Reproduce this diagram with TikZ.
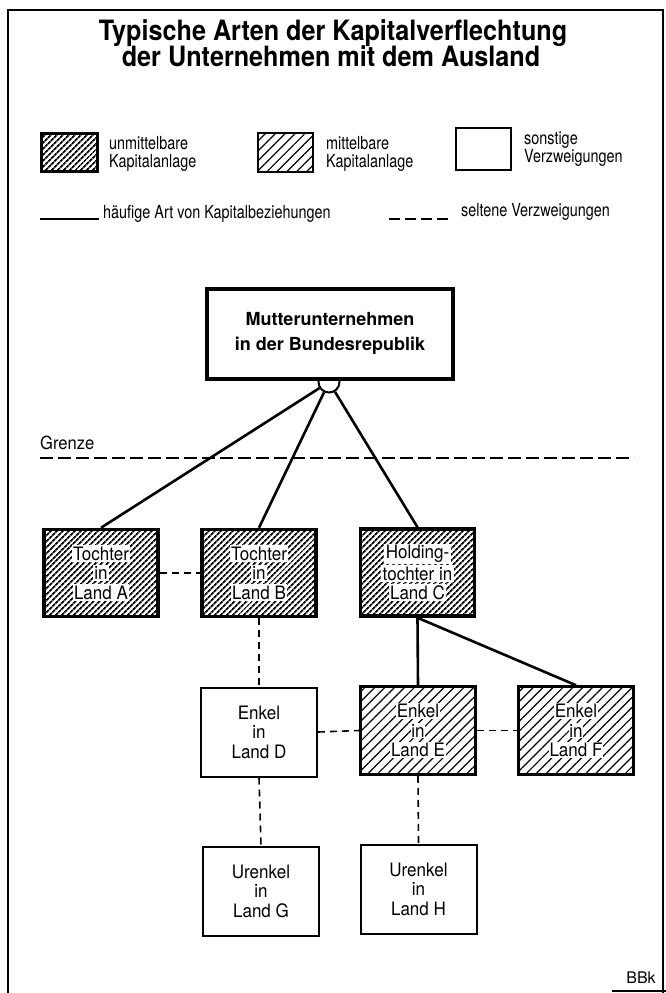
\documentclass[tikz,border=0pt]{standalone}
\usepackage{fontspec}
\setmainfont{TeX Gyre Heros}
\newfontfamily\narrowfont[FakeStretch=0.8]{TeX Gyre Heros}
\newfontfamily\boxfont[FakeStretch=0.92]{TeX Gyre Heros}
\newfontfamily\titlefont[FakeStretch=0.9]{TeX Gyre Heros}
\usetikzlibrary{patterns.meta}
\newcommand{\wb}[1]{{\setlength{\fboxsep}{1.5pt}\colorbox{white}{#1}}}
\newcommand{\wc}[1]{{\setlength{\fboxsep}{0.8pt}\colorbox{white}{#1}}}
\tikzset{
  boxtext/.style={font=\boxfont\fontsize{18.5}{19.5}\selectfont, align=center, inner sep=0pt},
  darkbox/.style={draw, line width=3.5pt, pattern={Lines[angle=45,distance=4pt,line width=1.8pt]},
    minimum width=114pt, minimum height=87pt, boxtext},
  lightbox/.style={draw, line width=2.5pt, pattern={Lines[angle=45,distance=7pt,line width=1.2pt]},
    minimum width=115pt, minimum height=88pt, boxtext},
  plainbox/.style={draw, line width=2pt, fill=white,
    minimum width=116pt, minimum height=89pt, boxtext},
  conn/.style={line width=2.6pt},
  dconn/.style={line width=1.6pt, dash pattern=on 7pt off 5pt},
  legtext/.style={font=\narrowfont\fontsize{18}{18}\selectfont, align=left, inner sep=0pt},
}
\begin{document}
\begin{tikzpicture}[x=1pt,y=-1pt]
\useasboundingbox (0,0) rectangle (666,993);
% frame
\draw[line width=1.5pt] (8,993) -- (8,10) -- (663,10) -- (663,993);
\draw[line width=1.2pt] (612,991) -- (666,991);
% title
\node[font=\titlefont\bfseries\fontsize{28}{28}\selectfont, anchor=base] (t1) at (333,40) {Typische Arten der Kapitalverflechtung};
\node[font=\titlefont\bfseries\fontsize{28}{28}\selectfont, anchor=base] (t2) at (331,66) {der Unternehmen mit dem Ausland};
% legend
\node[draw, line width=3pt, pattern={Lines[angle=45,distance=4pt,line width=1.8pt]}, minimum width=56pt, minimum height=38pt] (lg1) at (69.5,152.5) {};
\node[legtext, anchor=west] (lg1t) at (109,154) {unmittelbare\\Kapitalanlage};
\node[draw, line width=2pt, pattern={Lines[angle=45,distance=7pt,line width=1.2pt]}, minimum width=55pt, minimum height=39pt] (lg2) at (285.5,152.5) {};
\node[legtext, anchor=west] (lg2t) at (326,154) {mittelbare\\Kapitalanlage};
\node[draw, line width=2pt, fill=white, minimum width=55pt, minimum height=42pt] (lg3) at (483.5,149) {};
\node[legtext, anchor=west] (lg3t) at (524,149) {sonstige\\Verzweigungen};
\coordinate (ls1) at (40,219);
\coordinate (ls2) at (99,219);
\draw[line width=2.5pt] (ls1) -- (ls2);
\node[legtext, anchor=base west] (ls) at (103,218) {häufige Art von Kapitalbeziehungen};
\coordinate (ld1) at (389,219);
\coordinate (ld2) at (449,219);
\draw[line width=2pt, dash pattern=on 11pt off 5pt] (ld1) -- (ld2);
\node[legtext, anchor=base west] (ld) at (461,216) {seltene Verzweigungen};
% mother
\node[circle, draw, line width=2pt, fill=white, minimum size=21pt, inner sep=0pt] (hub) at (329,382) {};
\node[draw, line width=4pt, fill=white, minimum width=246pt, minimum height=90pt,
  font=\bfseries\fontsize{18}{25}\selectfont, align=center] (M) at (330,333.5) {Mutterunternehmen\\in der Bundesrepublik};
% border
\node[font=\boxfont\fontsize{18}{18}\selectfont, anchor=base west, inner sep=0pt] (grenze) at (40,449) {Grenze};
\coordinate (g1) at (40,458);
\coordinate (g2) at (634,458);
\draw[line width=2pt, dash pattern=on 13pt off 5pt] (g1) -- (g2);
% level 1
\node[darkbox] (A) at (101,573) {\wb{Tochter}\\\wb{in}\\\wb{Land A}};
\node[darkbox] (B) at (259,573) {\wb{Tochter}\\\wb{in}\\\wb{Land B}};
\node[darkbox] (C) at (417.5,572.5) {\wb{Holding-}\\\wb{tochter in}\\\wb{Land C}};
% level 2
\node[plainbox] (D) at (259,732) {Enkel\\in\\Land D};
\node[lightbox] (E) at (418,730.5) {\wc{Enkel}\\\wc{in}\\\wc{Land E}};
\node[lightbox] (F) at (576,730.5) {\wc{Enkel}\\\wc{in}\\\wc{Land F}};
% level 3
\node[plainbox] (G) at (261,891) {Urenkel\\in\\Land G};
\node[plainbox] (H) at (418.5,889) {Urenkel\\in\\Land H};
% connectors
\draw[conn] (hub) -- (A.north);
\draw[conn] (hub) -- (B.north);
\draw[conn] (hub) -- (C.north);
\draw[conn] (C.south) -- (E.north);
\draw[conn] (C.south) -- (F.north);
\draw[dconn] (A.east) -- (B.west);
\draw[dconn] (B.south) -- (D.north);
\draw[dconn] (D.east) -- (E.west);
\draw[dconn] (E.east) -- (F.west);
\draw[dconn] (D.south) -- (G.north);
\draw[dconn] (E.south) -- (H.north);
% signature
\node[font=\fontsize{16}{16}\selectfont, anchor=base] (bbk) at (641,983) {BBk};
\end{tikzpicture}
\end{document}
